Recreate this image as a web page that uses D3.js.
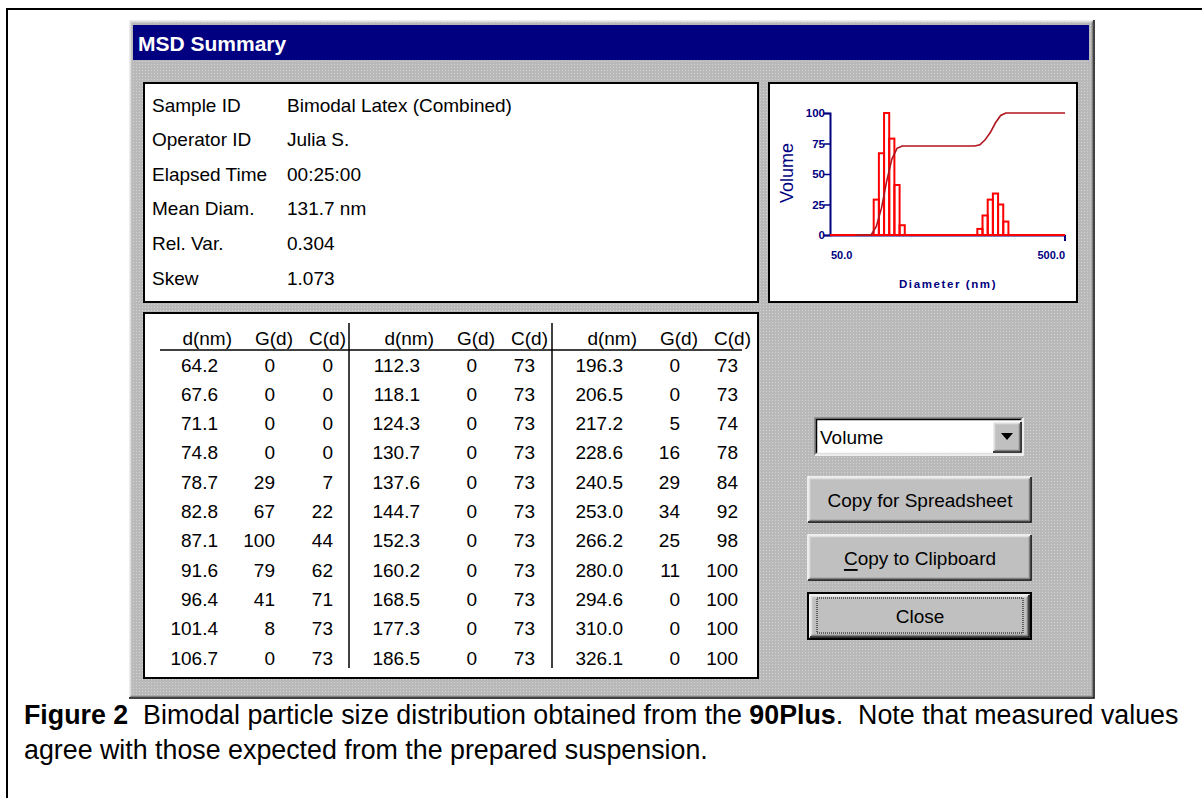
<!DOCTYPE html>
<html>
<head>
<meta charset="utf-8">
<script src="https://cdn.jsdelivr.net/npm/d3@7/dist/d3.min.js"></script>
<style>
  html, body { margin: 0; padding: 0; background: #fff; }
  svg text { font-family: "Liberation Sans", Arial, sans-serif; }
</style>
</head>
<body>
<div id="app"></div>
<script>
// ---- data ----
const dnm = [64.2, 67.6, 71.1, 74.8, 78.7, 82.8, 87.1, 91.6, 96.4, 101.4, 106.7,
  112.3, 118.1, 124.3, 130.7, 137.6, 144.7, 152.3, 160.2, 168.5, 177.3, 186.5,
  196.3, 206.5, 217.2, 228.6, 240.5, 253.0, 266.2, 280.0, 294.6, 310.0, 326.1];
const gd = [0, 0, 0, 0, 29, 67, 100, 79, 41, 8, 0,
  0, 0, 0, 0, 0, 0, 0, 0, 0, 0, 0,
  0, 0, 5, 16, 29, 34, 25, 11, 0, 0, 0];
const cd = [0, 0, 0, 0, 7, 22, 44, 62, 71, 73, 73,
  73, 73, 73, 73, 73, 73, 73, 73, 73, 73, 73,
  73, 73, 74, 78, 84, 92, 98, 100, 100, 100, 100];
const columnHeads = ["d(nm)", "G(d)", "C(d)"];
const infoLabels = ["Sample ID", "Operator ID", "Elapsed Time", "Mean Diam.", "Rel. Var.", "Skew"];
const infoValues = ["Bimodal Latex (Combined)", "Julia S.", "00:25:00", "131.7 nm", "0.304", "1.073"];
const yTicks = [0, 25, 50, 75, 100];
const xDomain = [50, 500];
const buttonLabels = ["Copy for Spreadsheet", "Copy to Clipboard", "Close"];

const width = 1202, height = 798;
const svg = d3.select("#app").append("svg")
  .attr("width", width).attr("height", height);

// dithered grey of the old dialog
const defs = svg.append("defs");
const pat = defs.append("pattern").attr("id", "dither")
  .attr("width", 3).attr("height", 3).attr("patternUnits", "userSpaceOnUse");
pat.append("rect").attr("width", 3).attr("height", 3).attr("fill", "#b9b9b9");
pat.append("rect").attr("x", 1).attr("y", 1).attr("width", 1).attr("height", 1).attr("fill", "#d2d2d2");

// outer figure frame
svg.append("rect").attr("x", 7).attr("y", 9).attr("width", 1200).attr("height", 800)
  .attr("fill", "#fff").attr("stroke", "#000").attr("stroke-width", 2);

// 3d edge helper
function bevel(g, x, y, w, h, raised) {
  let lt = raised ? "#ffffff" : "#808080";
  let rb = raised ? "#000000" : "#ffffff";
  let lt2 = raised ? "#dfdfdf" : "#000000";
  let rb2 = raised ? "#808080" : "#dfdfdf";
  g.append("path").attr("d", `M${x},${y + h}V${y}H${x + w}`).attr("fill", "none").attr("stroke", lt).attr("stroke-width", 1.5);
  g.append("path").attr("d", `M${x},${y + h}H${x + w}V${y}`).attr("fill", "none").attr("stroke", rb).attr("stroke-width", 1.5);
  g.append("path").attr("d", `M${x + 1.5},${y + h - 1.5}V${y + 1.5}H${x + w - 1.5}`).attr("fill", "none").attr("stroke", lt2).attr("stroke-width", 1.5);
  g.append("path").attr("d", `M${x + 1.5},${y + h - 1.5}H${x + w - 1.5}V${y + 1.5}`).attr("fill", "none").attr("stroke", rb2).attr("stroke-width", 1.5);
}

// dialog window
const dlg = svg.append("g").attr("id", "dialog");
dlg.append("rect").attr("x", 129).attr("y", 20).attr("width", 965).attr("height", 678)
  .attr("fill", "url(#dither)");
bevel(dlg, 129, 20, 965, 678, true);
dlg.append("rect").attr("x", 133).attr("y", 25).attr("width", 956).attr("height", 35)
  .attr("fill", "#000080");
dlg.append("text").attr("x", 138).attr("y", 51)
  .attr("fill", "#fff").attr("font-weight", "bold").attr("font-size", 21)
  .text("MSD Summary");

// panels
function panel(x, y, w, h) {
  dlg.append("rect").attr("x", x).attr("y", y).attr("width", w).attr("height", h)
    .attr("fill", "#fff").attr("stroke", "#000").attr("stroke-width", 2);
}
panel(144, 83, 614, 219);
panel(769, 83, 308, 219);
panel(144, 313, 614, 365);

// info block
const info = dlg.append("g").attr("font-size", 19);
info.selectAll(".lab").data(infoLabels).join("text")
  .attr("class", "lab").attr("x", 152).attr("y", (d, i) => 105 + i * 34.6)
  .attr("dominant-baseline", "central").text(d => d);
info.selectAll(".val").data(infoValues).join("text")
  .attr("class", "val").attr("x", 287).attr("y", (d, i) => 105 + i * 34.6)
  .attr("dominant-baseline", "central").text(d => d);

// table
const tbl = dlg.append("g").attr("font-size", 19);
const rowsPer = 11;
const sectionX = [0, 202, 405];
const headRight = [232, 293, 346];
const valRight = [218, 275, 333];
const rowY = d3.scaleLinear().domain([0, rowsPer - 1]).range([365, 658]);
sectionX.forEach((sx, s) => {
  columnHeads.forEach((h, c) => {
    tbl.append("text").attr("x", sx + headRight[c]).attr("y", 338)
      .attr("text-anchor", "end").attr("dominant-baseline", "central").text(h);
  });
  const rows = d3.range(rowsPer).map(i => s * rowsPer + i);
  rows.forEach((k, i) => {
    const vals = [dnm[k].toFixed(1), gd[k], cd[k]];
    vals.forEach((v, c) => {
      tbl.append("text").attr("x", sx + valRight[c]).attr("y", rowY(i))
        .attr("text-anchor", "end").attr("dominant-baseline", "central").text(v);
    });
  });
});
tbl.append("line").attr("x1", 160).attr("x2", 742).attr("y1", 350).attr("y2", 350)
  .attr("stroke", "#000").attr("stroke-width", 1.5);
[349, 552].forEach(x => {
  tbl.append("line").attr("x1", x).attr("x2", x).attr("y1", 323).attr("y2", 668)
    .attr("stroke", "#000").attr("stroke-width", 1.5);
});

// ---- mini chart ----
const navy = "#000080";
const smallFont = "'DejaVu Sans', Verdana, sans-serif";
const x = d3.scaleLog().domain(xDomain).range([830, 1065]);
const y = d3.scaleLinear().domain([0, 100]).range([235, 113]);
const ch = dlg.append("g").attr("id", "chart");

ch.append("g").attr("transform", "translate(830,0)")
  .call(d3.axisLeft(y).tickValues(yTicks).tickSize(6).tickFormat(d3.format("d")))
  .call(g => g.select(".domain").attr("stroke", navy).attr("stroke-width", 2))
  .call(g => g.selectAll(".tick line").attr("stroke", navy).attr("stroke-width", 1.5))
  .call(g => g.selectAll(".tick text").attr("fill", navy).attr("font-size", 11.5)
    .attr("font-weight", "bold").attr("font-family", smallFont).attr("x", -5));

ch.append("g").attr("transform", "translate(0,235)")
  .call(d3.axisBottom(x).tickValues([]).tickSizeOuter(0))
  .call(g => g.select(".domain").attr("stroke", navy).attr("stroke-width", 2));
ch.append("line").attr("x1", x(xDomain[1])).attr("x2", x(xDomain[1]))
  .attr("y1", 235).attr("y2", 241).attr("stroke", navy).attr("stroke-width", 2);

const xLab = ch.append("g").attr("fill", navy).attr("font-size", 11).attr("font-weight", "bold")
  .style("font-family", smallFont);
xLab.append("text").attr("x", x(xDomain[0]) + 1).attr("y", 255)
  .attr("dominant-baseline", "central").text(xDomain[0].toFixed(1));
xLab.append("text").attr("x", x(xDomain[1])).attr("y", 255).attr("text-anchor", "end")
  .attr("dominant-baseline", "central").text(xDomain[1].toFixed(1));
xLab.append("text").attr("x", 948).attr("y", 284).attr("text-anchor", "middle")
  .attr("dominant-baseline", "central").attr("font-size", 11.5).attr("letter-spacing", 1.6)
  .text("Diameter (nm)");
ch.append("text").attr("transform", "translate(787,173) rotate(-90)")
  .attr("text-anchor", "middle").attr("dominant-baseline", "central")
  .attr("fill", navy).attr("font-size", 18).text("Volume");

// red baseline of the histogram
ch.append("line").attr("x1", x(xDomain[0])).attr("x2", x(xDomain[1]))
  .attr("y1", y(0)).attr("y2", y(0)).attr("stroke", "#ff0000").attr("stroke-width", 2);

// hollow bars, edges at geometric midpoints of neighbouring sizes
const bins = dnm.map((d, i) => {
  const prev = i > 0 ? dnm[i - 1] : d * d / dnm[i + 1];
  const next = i < dnm.length - 1 ? dnm[i + 1] : d * d / dnm[i - 1];
  return { d, g: gd[i], lo: Math.sqrt(prev * d), hi: Math.sqrt(d * next) };
}).filter(b => b.g > 0);
ch.selectAll(".bar").data(bins).join("rect").attr("class", "bar")
  .attr("x", b => x(b.lo)).attr("width", b => x(b.hi) - x(b.lo))
  .attr("y", b => y(b.g)).attr("height", b => y(0) - y(b.g))
  .attr("fill", "none").attr("stroke", "#ff0000").attr("stroke-width", 2);

// cumulative curve
const cum = dnm.map((d, i) => [d, cd[i]]).concat([[xDomain[1], cd[cd.length - 1]]]);
ch.append("path").datum(cum)
  .attr("d", d3.line().x(p => x(p[0])).y(p => y(p[1])))
  .attr("fill", "none").attr("stroke", "#b0141e").attr("stroke-width", 1.6);

// ---- controls ----
const ctl = dlg.append("g").attr("font-size", 19);
ctl.append("rect").attr("x", 816).attr("y", 419).attr("width", 206).attr("height", 35).attr("fill", "#fff");
bevel(ctl, 815, 418, 208, 37, false);
ctl.append("text").attr("x", 820).attr("y", 437).attr("dominant-baseline", "central").text("Volume");
ctl.append("rect").attr("x", 993).attr("y", 422).attr("width", 28).attr("height", 30).attr("fill", "#c0c0c0");
bevel(ctl, 993, 422, 28, 30, true);
ctl.append("path").attr("d", "M1001,433h12l-6,7z").attr("fill", "#000");

const btnY = [477, 535, 593];
buttonLabels.forEach((label, i) => {
  const by = btnY[i];
  ctl.append("rect").attr("x", 808).attr("y", by).attr("width", 223).attr("height", 45).attr("fill", "#c0c0c0");
  if (i === 2) {
    ctl.append("rect").attr("x", 808).attr("y", by).attr("width", 223).attr("height", 46)
      .attr("fill", "none").attr("stroke", "#000").attr("stroke-width", 2);
    bevel(ctl, 810, by + 2, 219, 42, true);
    ctl.append("rect").attr("x", 817).attr("y", by + 5).attr("width", 206).attr("height", 35)
      .attr("fill", "none").attr("stroke", "#000").attr("stroke-width", 1).attr("stroke-dasharray", "1,1");
  } else {
    bevel(ctl, 808, by, 223, 45, true);
  }
  const t = ctl.append("text").attr("x", 920).attr("y", by + 23)
    .attr("text-anchor", "middle").attr("dominant-baseline", "central");
  if (i === 1) {
    t.append("tspan").attr("text-decoration", "underline").text(label[0]);
    t.append("tspan").text(label.slice(1));
  } else {
    t.text(label);
  }
});

// ---- caption ----
const cap = svg.append("g").attr("font-size", 26.8).attr("fill", "#000");
const l1 = cap.append("text").attr("x", 24).attr("y", 724).attr("xml:space", "preserve").style("white-space", "pre");
l1.append("tspan").attr("font-weight", "bold").text("Figure 2");
l1.append("tspan").text("  Bimodal particle size distribution obtained from the ");
l1.append("tspan").attr("font-weight", "bold").text("90Plus");
l1.append("tspan").text(".  Note that measured values");
cap.append("text").attr("x", 24).attr("y", 759).text("agree with those expected from the prepared suspension.");
</script>
</body>
</html>
